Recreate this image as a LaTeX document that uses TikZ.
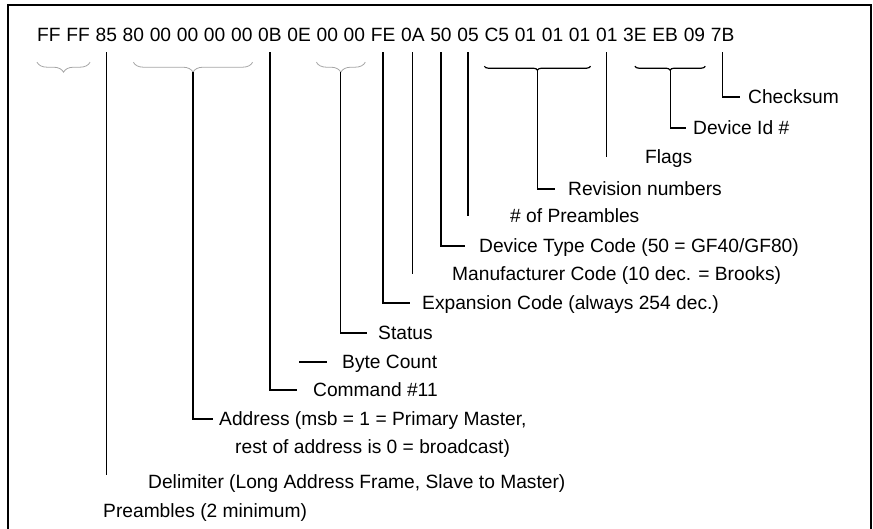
\documentclass[tikz,border=0pt]{standalone}
\usepackage{fontspec}
\setmainfont{Liberation Sans}
\usetikzlibrary{positioning, calc, decorations.pathreplacing}

\begin{document}
\begin{tikzpicture}[
    x=1pt, y=-1pt,
    every node/.style={font=\fontsize{19.2}{23}\selectfont},
    hexbyte/.style={inner xsep=0pt, inner ysep=10pt, text height=13.8pt, text depth=0pt},
    lbl/.style={anchor=west, inner sep=0pt, text height=13.8pt, text depth=0pt},
    lead/.style={line width=1.2pt},
    brc/.style={decorate, decoration={brace, mirror, amplitude=10pt}, line width=0.8pt, black!35},
    flatbrc/.style={decorate, decoration={brace, mirror, amplitude=4pt}, line width=1.2pt},
    frame/.style={line width=2pt}
]
    \useasboundingbox (0,0) rectangle (873,529);

    % Frame
    \draw[frame] (8,529) -- (8,5) -- (871,5) -- (871,529);

    % Message bytes
    \node[hexbyte, anchor=base west] (b1) at (37,42) {FF};
    \foreach \hx [count=\i from 2] in {FF,85,80,00,00,00,00,0B,0E,00,00,FE,0A,50,05,C5,01,01,01,01,3E,EB,09,7B} {
        \pgfmathtruncatemacro\j{\i-1}
        \node[hexbyte, base right=5.34pt of b\j] (b\i) {\hx};
    }

    % Braces over byte groups
    \draw[brc] ([yshift=-10pt]b1.south west) -- ([yshift=-10pt]b2.south east);
    \draw[brc] ([yshift=-10pt]b4.south) -- ([yshift=-10pt]b8.south east);
    \draw[brc] ([yshift=-10pt]b11.south west) -- ([yshift=-10pt]b12.south east);
    \draw[flatbrc] ([yshift=-14pt]b17.south west) -- ([yshift=-14pt]b20.south east);
    \draw[flatbrc] ([yshift=-14pt]b22.south) -- ([yshift=-14pt]b24.south east);
    \coordinate (addrtip) at ($(b4.south)!.5!(b8.south east)+(0,20)$);
    \coordinate (sttip) at ($(b11.south west)!.5!(b12.south east)+(0,20)$);
    \coordinate (revtip) at ($(b17.south west)!.5!(b20.south east)+(0,18)$);
    \coordinate (idtip) at ($(b22.south)!.5!(b24.south east)+(0,18)$);

    % Field labels
    \node[lbl] (checksum) at (748,97) {Checksum};
    \node[lbl] (devid) at (693,128) {Device Id \#};
    \node[lbl] (flags) at (645,157) {Flags};
    \node[lbl] (revision) at (568,189) {Revision numbers};
    \node[lbl] (npre) at (510,216) {\# of Preambles};
    \node[lbl] (devtype) at (479,246) {Device Type Code (50 = GF40/GF80)};
    \node[lbl] (manuf) at (452,274) {Manufacturer Code (10 dec. = Brooks)};
    \node[lbl] (expcode) at (422,303) {Expansion Code (always 254 dec.)};
    \node[lbl] (status) at (378,333) {Status};
    \node[lbl] (bytecount) at (342,362) {Byte Count};
    \node[lbl] (command) at (313,390) {Command \#11};
    \node[lbl] (address) at (219,419) {Address (msb = 1 = Primary Master,};
    \node[lbl] (addrrest) at (235,447) {rest of address is 0 = broadcast)};
    \node[lbl] (delim) at (148,482) {Delimiter (Long Address Frame, Slave to Master)};
    \node[lbl] (preamb) at (103,511) {Preambles (2 minimum)};

    % Leaders
    \draw[lead] (b25.south) |- ([xshift=-8pt]checksum.west);
    \draw[lead] (idtip) |- ([xshift=-7pt]devid.west);
    \draw[lead] (b21.south) -- (b21.south |- flags.west);
    \draw[lead] (revtip) |- ([xshift=-13pt]revision.west);
    \draw[lead] (b16.south) -- (b16.south |- npre.west);
    \draw[lead] (b15.south) |- ([xshift=-14pt]devtype.west);
    \draw[lead] (b14.south) -- (b14.south |- manuf.west);
    \draw[lead] (b13.south) |- ([xshift=-12pt]expcode.west);
    \draw[lead] (sttip) |- ([xshift=-11pt]status.west);
    \draw[lead] (b10.south |- bytecount.west) -- ([xshift=-15pt]bytecount.west);
    \draw[lead] (b9.south) |- ([xshift=-16pt]command.west);
    \draw[lead] (addrtip) |- ([xshift=-6pt]address.west);
    \draw[lead] (b3.south) -- (b3.south |- delim.north);

\end{tikzpicture}
\end{document}
